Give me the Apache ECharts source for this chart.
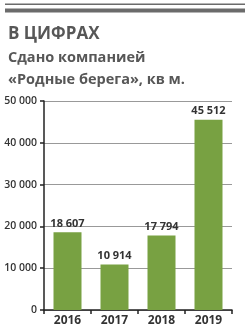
<!DOCTYPE html>
<html><head><meta charset="utf-8">
<script src="https://cdn.jsdelivr.net/npm/echarts@6/dist/echarts.min.js"></script>
<style>html,body{margin:0;padding:0;background:#fff}#c{width:250px;height:333px}</style>
</head><body><div id="c"></div>
<script>
const categories = ['2016', '2017', '2018', '2019'];
const values = [18607, 10914, 17794, 45512];
const yTicks = [0, 10000, 20000, 30000, 40000, 50000];
const heading = 'В ЦИФРАХ';
const subtitleLines = ['Сдано компанией', '«Родные берега», кв м.'];

function fmt(v) { return String(v).replace(/\B(?=(\d{3})+(?!\d))/g, ' '); }

const chart = echarts.init(document.getElementById('c'), null, {renderer: 'canvas'});
chart.setOption({
  animation: false,
  backgroundColor: '#fff',
  graphic: [
    {type: 'rect', shape: {x: 5, y: 3.5, width: 240, height: 1.5}, style: {fill: '#6b6b6b'}},
    {type: 'rect', shape: {x: 5, y: 8.5, width: 240, height: 4}, style: {fill: '#6b6b6b'}}
  ],
  title: [
    {text: heading, left: 3, top: 21, textStyle: {fontFamily: 'Open Sans', fontWeight: 'bold', fontSize: 17, color: '#575757'}},
    {text: subtitleLines.join('\n'), left: 3, top: 42, textStyle: {fontFamily: 'Open Sans', fontWeight: 'bold', fontSize: 14.5, lineHeight: 22, color: '#575757'}}
  ],
  grid: {left: 44, right: 18, top: 101, bottom: 23, containLabel: false},
  xAxis: {
    type: 'category', data: categories,
    axisLine: {lineStyle: {color: '#222', width: 1.5}},
    axisTick: {show: true, inside: false, length: 4, lineStyle: {color: '#222', width: 1.5}},
    axisLabel: {color: '#333', fontFamily: 'Open Sans', fontWeight: 'bold', fontSize: 12, margin: 5}
  },
  yAxis: {
    type: 'value', min: 0, max: 50000, interval: 10000,
    axisLine: {show: true, lineStyle: {color: '#222', width: 1.5}},
    axisTick: {show: true, length: 4, lineStyle: {color: '#222', width: 1.5}},
    splitLine: {lineStyle: {color: '#999', width: 1}},
    axisLabel: {color: '#333', fontFamily: 'Open Sans', fontWeight: 600, fontSize: 10.5, margin: 7, formatter: v => fmt(v)}
  },
  series: [{
    type: 'bar', data: values, barWidth: 28,
    itemStyle: {color: '#78a142'},
    label: {show: true, position: 'top', distance: 3, color: '#333', fontFamily: 'Open Sans', fontWeight: 'bold', fontSize: 11, formatter: p => fmt(p.value)}
  }]
});
</script></body></html>
